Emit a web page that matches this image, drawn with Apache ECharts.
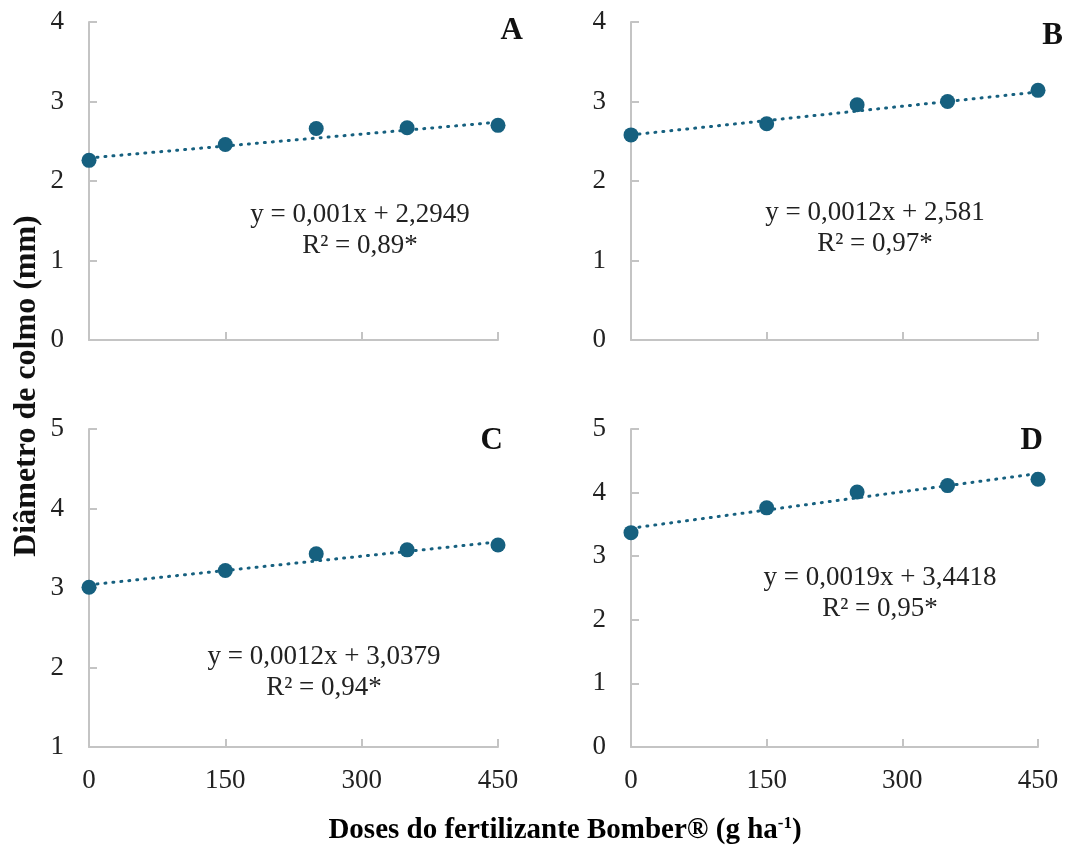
<!DOCTYPE html>
<html>
<head>
<meta charset="utf-8">
<script src="https://cdn.jsdelivr.net/npm/echarts@6/dist/echarts.min.js"></script>
<style>
  html, body { margin: 0; padding: 0; background: #fff; }
  #chart { width: 1083px; height: 849px; }
</style>
</head>
<body>
<div id="chart"></div>
<script>
// doses (g ha-1)
const doses = [0, 150, 250, 350, 450];

// diametro de colmo (mm) por painel
const valuesA = [2.26, 2.46, 2.66, 2.67, 2.70];
const valuesB = [2.58, 2.72, 2.96, 3.00, 3.14];
const valuesC = [3.01, 3.22, 3.43, 3.48, 3.54];
const valuesD = [3.37, 3.76, 4.01, 4.11, 4.21];

// extremos da linha de tendencia (x = 0 e x = 450)
const trendA = [2.29, 2.74];
const trendB = [2.58, 3.12];
const trendC = [3.04, 3.58];
const trendD = [3.44, 4.30];

const panelLetters = ['A', 'B', 'C', 'D'];
const equations = ['y = 0,001x + 2,2949', 'y = 0,0012x + 2,581', 'y = 0,0012x + 3,0379', 'y = 0,0019x + 3,4418'];
const rSquared = ['R² = 0,89*', 'R² = 0,97*', 'R² = 0,94*', 'R² = 0,95*'];
const yRanges = [[0, 4], [0, 4], [1, 5], [0, 5]];

const color = '#16607f';
const axisColor = '#c4c4c4';
const serif = 'Liberation Serif';

// posicao de cada painel
const grids = [
  { left: 89, top: 22, width: 409, height: 318 },
  { left: 631, top: 22, width: 407, height: 318 },
  { left: 89, top: 429, width: 409, height: 318 },
  { left: 631, top: 429, width: 407, height: 318 }
];
// centro da primeira linha da equacao
const eqPos = [[360, 215], [875, 213], [324, 657], [880, 578]];
// borda direita / centro vertical das letras
const letterPos = [[523, 31], [1063, 36], [503, 441], [1043, 441]];

const values = [valuesA, valuesB, valuesC, valuesD];
const trends = [trendA, trendB, trendC, trendD];

let chart = echarts.init(document.getElementById('chart'));

let xAxes = [], yAxes = [], series = [], graphics = [];
grids.forEach((g, i) => {
  xAxes.push({
    type: 'value', gridIndex: i, min: 0, max: 450, interval: 150,
    axisLine: { lineStyle: { color: axisColor, width: 2 } },
    axisTick: { inside: true, length: 8, lineStyle: { color: axisColor, width: 2 } },
    axisLabel: { show: i >= 2, fontFamily: serif, fontSize: 27, color: '#222', margin: 20 },
    splitLine: { show: false }
  });
  yAxes.push({
    type: 'value', gridIndex: i, min: yRanges[i][0], max: yRanges[i][1], interval: 1,
    axisLine: { show: true, lineStyle: { color: axisColor, width: 2 } },
    axisTick: { show: true, inside: true, length: 8, lineStyle: { color: axisColor, width: 2 } },
    axisLabel: { fontFamily: serif, fontSize: 27, color: '#222', margin: 25 },
    splitLine: { show: false }
  });
  // linha de tendencia pontilhada
  series.push({
    type: 'line', xAxisIndex: i, yAxisIndex: i,
    data: [[doses[0], trends[i][0]], [doses[doses.length - 1], trends[i][1]]],
    showSymbol: false, silent: true, z: 2,
    lineStyle: { color: color, width: 3, type: [1, 7], cap: 'round' }
  });
  // pontos observados
  series.push({
    type: 'scatter', xAxisIndex: i, yAxisIndex: i,
    data: doses.map((d, k) => [d, values[i][k]]),
    symbolSize: 15, z: 3,
    itemStyle: { color: color, opacity: 1 }
  });
  graphics.push({
    type: 'text', x: eqPos[i][0], y: eqPos[i][1] - 16,
    style: { text: equations[i] + '\n' + rSquared[i], fontFamily: serif, fontSize: 27, fill: '#222',
      align: 'center', verticalAlign: 'top', lineHeight: 31 }
  });
  graphics.push({
    type: 'text', x: letterPos[i][0], y: letterPos[i][1],
    style: { text: panelLetters[i], fontFamily: serif, fontSize: 31, fontWeight: 'bold', fill: '#111',
      align: 'right', verticalAlign: 'middle' }
  });
});

// titulos dos eixos
graphics.push({
  type: 'text', x: 27, y: 386, rotation: Math.PI / 2,
  style: { text: 'Diâmetro de colmo (mm)', fontFamily: serif, fontSize: 32, fontWeight: 'bold', fill: '#111',
    align: 'center', verticalAlign: 'middle' }
});
graphics.push({
  type: 'text', x: 565, y: 831,
  style: {
    text: '{a|Doses do fertilizante Bomber® (g ha}{s|-1}{a|)}',
    align: 'center', verticalAlign: 'middle',
    rich: {
      a: { fontFamily: serif, fontSize: 29, fontWeight: 'bold', color: '#111' },
      s: { fontFamily: serif, fontSize: 17, fontWeight: 'bold', color: '#111', verticalAlign: 'top', padding: [0, 0, 14, 0] }
    }
  }
});

let option = {
  animation: false,
  backgroundColor: '#fff',
  grid: grids,
  xAxis: xAxes,
  yAxis: yAxes,
  series: series,
  graphic: graphics
};

chart.setOption(option);
</script>
</body>
</html>
